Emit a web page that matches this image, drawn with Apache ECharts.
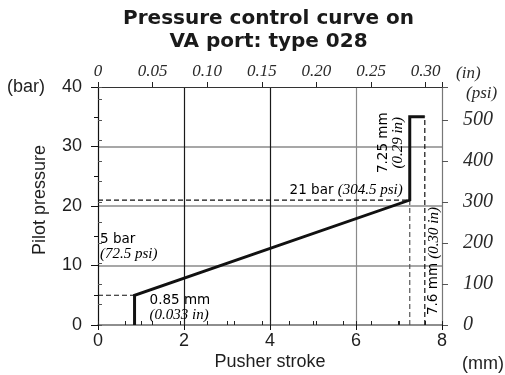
<!DOCTYPE html>
<html>
<head>
<meta charset="utf-8">
<script src="https://cdn.jsdelivr.net/npm/echarts@6/dist/echarts.min.js"></script>
<style>
  html, body { margin: 0; padding: 0; background: #fff; }
  #chart { width: 505px; height: 375px; }
</style>
</head>
<body>
<div id="chart"></div>
<script>
// Pressure control curve: pusher stroke (mm) against pilot pressure (bar)
const strokeMm    = [0.85, 0.85, 7.25, 7.25, 7.6];
const pressureBar = [0,    5,    21,   35,   35];

// Dashed reference lines
const guide5X   = [0, 0.85];   const guide5Y   = [5, 5];
const guide21X  = [0, 7.25];   const guide21Y  = [21, 21];
const drop725X  = [7.25, 7.25]; const drop725Y = [0, 21];
const drop76X   = [7.6, 7.6];   const drop76Y  = [0, 35];

// Tick labels
const mmTicks  = [0, 2, 4, 6, 8];
const barTicks = [0, 10, 20, 30, 40];
const psiTicks = [0, 100, 200, 300, 400, 500];
const inTicks  = [0, 0.05, 0.10, 0.15, 0.20, 0.25, 0.30];
const inTickLabels = ['0', '0.05', '0.10', '0.15', '0.20', '0.25', '0.30'];

const BAR_TO_PSI = 14.5;
const MM_PER_IN = 25.4;
const strokeMax = mmTicks[mmTicks.length - 1];
const pressureMax = barTicks[barTicks.length - 1];

const zip = (xs, ys) => xs.map((x, i) => [x, ys[i]]);
const near = (a, b) => Math.abs(a - b) < 1e-9;

const SANS = '"Liberation Sans", Arial, sans-serif';
const SERIF = '"Liberation Serif", "Times New Roman", serif';
const INK = '#1e1e1e';

const sansLabel = { fontFamily: SANS, fontSize: 18, color: INK };
const serifLabel = { fontFamily: SERIF, fontStyle: 'italic', fontSize: 18, color: '#2a2a2a' };

const chart = echarts.init(document.getElementById('chart'), null, { renderer: 'canvas' });

const hidden = { show: false };

chart.setOption({
  animation: false,
  backgroundColor: '#fff',
  grid: { left: 98, right: 63, top: 87, bottom: 50, containLabel: false },
  xAxis: [
    { // stroke in mm (bottom)
      type: 'value', position: 'bottom', min: 0, max: strokeMax, interval: 2,
      axisLine: { show: true, lineStyle: { color: '#6a6a6a', width: 1.5 } },
      axisTick: { show: true, length: 5, lineStyle: { color: '#111' } },
      axisLabel: Object.assign({ margin: 7,
        formatter: v => mmTicks.some(t => near(t, v)) ? String(v) : '' }, sansLabel),
      splitLine: { show: true, showMinLine: false, showMaxLine: false,
        lineStyle: { color: ['#1a1a1a', '#1a1a1a', '#8a8a8a'], width: 1.2 } }
    },
    { // stroke in inches (top)
      type: 'value', position: 'top', min: 0, max: strokeMax / MM_PER_IN, interval: 0.05,
      axisLine: { show: true, onZero: false, lineStyle: { color: '#333', width: 1.2 } },
      axisTick: { show: true, length: 5, lineStyle: { color: '#222' } },
      axisLabel: Object.assign({ margin: 7, formatter: v => {
        const i = inTicks.findIndex(t => near(t, v));
        return i >= 0 ? inTickLabels[i] : '';
      } }, serifLabel, { fontSize: 17 }),
      splitLine: hidden
    },
    { // inch minor ticks
      type: 'value', position: 'top', min: 0, max: strokeMax / MM_PER_IN, interval: 0.025,
      axisLine: hidden, axisLabel: hidden, splitLine: hidden,
      axisTick: { show: true, length: 4, lineStyle: { color: '#222' } }
    },
    { // mm minor ticks, pointing inward
      type: 'value', position: 'bottom', min: 0, max: strokeMax, interval: 1,
      axisLine: hidden, axisLabel: hidden, splitLine: hidden,
      axisTick: { show: true, inside: true, length: 4, lineStyle: { color: '#222' } }
    }
  ],
  yAxis: [
    { // pressure in bar (left)
      type: 'value', position: 'left', min: 0, max: pressureMax, interval: 10,
      axisLine: { show: true, lineStyle: { color: '#111', width: 1.2 } },
      axisTick: { show: true, length: 7, lineStyle: { color: '#111' } },
      axisLabel: Object.assign({ margin: 16,
        formatter: v => barTicks.some(t => near(t, v)) ? String(v) : '' }, sansLabel),
      splitLine: { show: true, showMinLine: false, showMaxLine: false,
        lineStyle: { color: '#8a8a8a', width: 1.5 } }
    },
    { // pressure in psi (right)
      type: 'value', position: 'right', min: 0, max: pressureMax * BAR_TO_PSI, interval: 100,
      axisLine: { show: true, onZero: false, lineStyle: { color: '#777', width: 1.2 } },
      axisTick: { show: true, length: 6, lineStyle: { color: '#555' } },
      axisLabel: Object.assign({ margin: 21,
        formatter: v => psiTicks.some(t => near(t, v)) ? String(v) : '' }, serifLabel, { fontSize: 20 }),
      splitLine: hidden
    },
    { // psi minor ticks
      type: 'value', position: 'right', min: 0, max: pressureMax * BAR_TO_PSI, interval: 50,
      axisLine: hidden, axisLabel: hidden, splitLine: hidden,
      axisTick: { show: true, length: 4, lineStyle: { color: '#555' } }
    },
    { // bar minor ticks
      type: 'value', position: 'left', min: 0, max: pressureMax, interval: 5,
      axisLine: hidden, axisLabel: hidden, splitLine: hidden,
      axisTick: { show: true, length: 4, lineStyle: { color: '#111' } }
    }
  ],
  series: [
    { type: 'line', name: 'guide 5 bar', data: zip(guide5X, guide5Y), symbol: 'none',
      lineStyle: { color: '#111', width: 1.2, type: [5, 3] }, z: 3 },
    { type: 'line', name: 'guide 21 bar', data: zip(guide21X, guide21Y), symbol: 'none',
      lineStyle: { color: '#111', width: 1.2, type: [5, 3] }, z: 3 },
    { type: 'line', name: 'drop 7.25 mm', data: zip(drop725X, drop725Y), symbol: 'none',
      lineStyle: { color: '#555', width: 1.2, type: [5, 3] }, z: 3 },
    { type: 'line', name: 'drop 7.6 mm', data: zip(drop76X, drop76Y), symbol: 'none',
      lineStyle: { color: '#111', width: 1.2, type: [5, 3] }, z: 3 },
    { type: 'line', name: 'pilot pressure', data: zip(strokeMm, pressureBar), symbol: 'none',
      lineStyle: { color: '#111', width: 3, join: 'miter', cap: 'butt' }, z: 5 }
  ]
});

// Annotations and axis titles
const px = (x, y) => chart.convertToPixel({ xAxisIndex: 0, yAxisIndex: 0 }, [x, y]);
const rich = {
  s: { fontFamily: '"DejaVu Sans", Verdana, sans-serif', fontSize: 13.5, color: INK, lineHeight: 15 },
  i: { fontFamily: SERIF, fontStyle: 'italic', fontSize: 15, color: '#2a2a2a', lineHeight: 15 }
};
const note = (anchor, dx, dy, text, opts) => {
  const p = px(anchor[0], anchor[1]);
  return Object.assign({
    type: 'text', x: p[0] + dx, y: p[1] + dy, z: 10,
    style: Object.assign({ text, rich, align: 'left', verticalAlign: 'middle' }, (opts && opts.style) || {})
  }, (opts && opts.el) || {});
};
const plain = (x, y, text, font, align, color, rotation, lineHeight) => ({
  type: 'text', x, y, rotation: rotation || 0, z: 10,
  style: { text, font, fill: color || INK, align: align || 'left', verticalAlign: 'middle',
           lineHeight: lineHeight }
});

const graphics = [
  plain(268.5, 30, 'Pressure control curve on\nVA port: type 028',
        'bold 20px "DejaVu Sans", Verdana, sans-serif', 'center', '#1a1a1a', 0, 23),
  plain(40, 200, 'Pilot pressure', '18px ' + SANS, 'center', INK, Math.PI / 2),
  plain(7, 87, '(bar)', '18px ' + SANS, 'left'),
  plain(270, 362, 'Pusher stroke', '18px ' + SANS, 'center'),
  plain(483, 364, '(mm)', '18px ' + SANS, 'center'),
  plain(456, 74, '(in)', 'italic 17px ' + SERIF, 'left', '#2a2a2a'),
  plain(466, 94, '(psi)', 'italic 17px ' + SERIF, 'left', '#2a2a2a'),

  note([7.25, 21], -7, -10, '{s|21 bar }{i|(304.5 psi)}', { style: { align: 'right' } }),
  note([0, 10], 2, -19, '{s|5 bar}\n{i|(72.5 psi)}'),
  note([0.85, 0], 15, -17, '{s|0.85 mm}\n{i|(0.033 in)}'),
  note([7.25, 35], -19, 26, '{s|7.25 mm}\n{i|(0.29 in)}',
       { style: { align: 'center' }, el: { rotation: Math.PI / 2 } }),
  note([7.6, 0], 9, -64, '{s|7.6 mm }{i|(0.30 in)}',
       { style: { align: 'center' }, el: { rotation: Math.PI / 2 } })
];

chart.setOption({ graphic: graphics });
</script>
</body>
</html>
